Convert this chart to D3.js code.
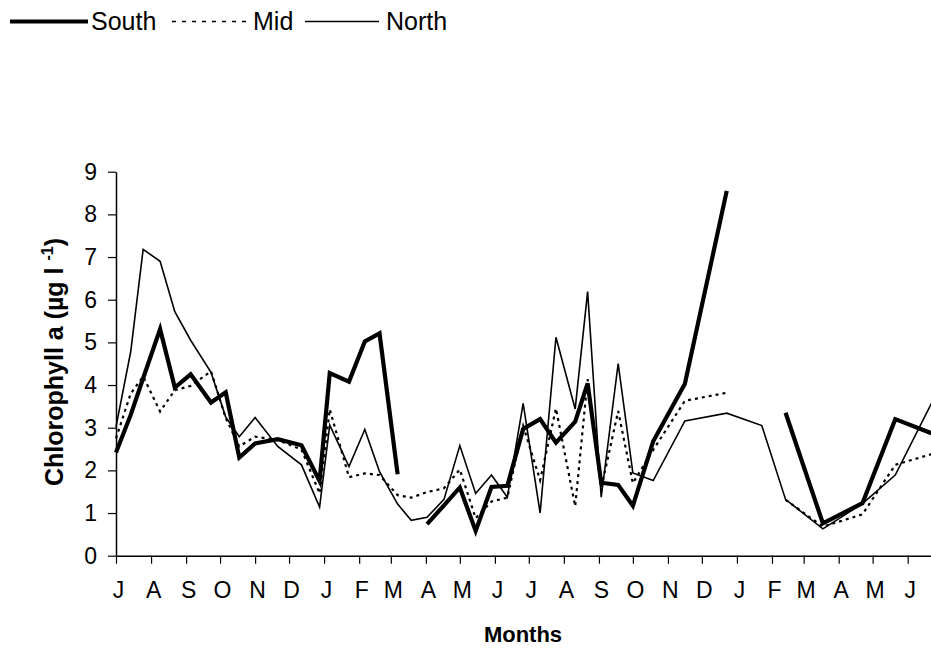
<!DOCTYPE html>
<html>
<head>
<meta charset="utf-8">
<script src="https://cdn.jsdelivr.net/npm/d3@7/dist/d3.min.js"></script>
<style>
  html, body { margin: 0; padding: 0; background: #fff; }
  svg { display: block; font-family: "Liberation Sans", Arial, sans-serif; }
</style>
</head>
<body>
<svg id="chart" width="931" height="649"></svg>
<script>
// ---- data ----
const sampleDates = [
  "2001-07-01","2001-07-14","2001-07-25","2001-08-09","2001-08-22","2001-09-05",
  "2001-09-23","2001-10-06","2001-10-18","2001-11-01","2001-11-21","2001-12-12",
  "2001-12-28","2002-01-06","2002-01-23","2002-02-06","2002-02-19","2002-03-07",
  "2002-03-19","2002-04-02","2002-04-17","2002-05-01","2002-05-15","2002-05-29",
  "2002-06-12","2002-06-26","2002-07-11","2002-07-25","2002-08-11","2002-08-22",
  "2002-09-03","2002-09-18","2002-10-01","2002-10-19","2002-11-16","2002-12-23",
  "2003-01-23","2003-02-13","2003-03-18","2003-04-22","2003-05-21","2003-06-22"
];
const south = [
  2.42, 3.30, 4.16, 5.31, 3.94, 4.25, 3.59, 3.83, 2.30, 2.63, 2.73, 2.59,
  1.75, 4.28, 4.08, 5.02, 5.21, 1.91, null, 0.74, 1.18, 1.60, 0.58, 1.61,
  1.64, 2.97, 3.20, 2.65, 3.14, 4.04, 1.71, 1.66, 1.17, 2.68, 4.03, 8.55,
  null, 3.35, 0.76, 1.23, 3.20, 2.87
];
const mid = [
  2.75, 3.80, 4.20, 3.38, 3.88, 3.98, 4.32, 3.23, 2.56, 2.79, 2.71, 2.49,
  1.46, 3.43, 1.84, 1.93, 1.89, 1.42, 1.36, 1.49, 1.58, 2.02, 0.88, 1.27,
  1.36, 3.04, 1.77, 3.45, 1.16, 4.14, 1.58, 3.39, 1.70, 2.48, 3.63, 3.82,
  null, 1.31, 0.68, 0.97, 2.13, 2.38
];
const north = [
  3.02, 4.78, 7.18, 6.90, 5.72, 5.05, 4.30, 3.25, 2.79, 3.24, 2.56, 2.13,
  1.14, 3.06, 2.09, 2.96, 1.97, 1.21, 0.83, 0.90, 1.32, 2.58, 1.46, 1.89,
  1.37, 3.57, 1.00, 5.12, 3.44, 6.19, 1.37, 4.50, 1.94, 1.76, 3.16, 3.34,
  3.05, 1.32, 0.63, 1.22, 1.89, 3.57
];
const monthLabels = ["J","A","S","O","N","D","J","F","M","A","M","J",
                     "J","A","S","O","N","D","J","F","M","A","M","J"];
const yTicks = [0,1,2,3,4,5,6,7,8,9];
const seriesNames = ["South","Mid","North"];

// ---- layout ----
const svg = d3.select("#chart");
const W = 931, H = 649;
const mLeft = 116, mTop = 171.7, mBottom = 555.7;
const parse = d3.utcParse("%Y-%m-%d");
const dates = sampleDates.map(parse);
const startDate = parse("2001-07-01"), endDate = parse("2003-07-01");
const pxPerDay = 1.131;
const x = d3.scaleUtc().domain([startDate, endDate])
  .range([mLeft, mLeft + pxPerDay * d3.utcDay.count(startDate, endDate)]);
const y = d3.scaleLinear().domain([0, 9]).range([mBottom, mTop]);

// axes
const tickDates = d3.utcMonth.range(startDate, endDate).slice(0, monthLabels.length);
const xAxis = d3.axisBottom(x).tickValues(tickDates)
  .tickFormat((d, i) => monthLabels[i]).tickSize(8).tickPadding(18).tickSizeOuter(0);
const gx = svg.append("g").attr("transform", `translate(0,${mBottom})`).call(xAxis);
gx.select(".domain").attr("d", `M${mLeft},0.5H${W}`);
gx.selectAll("line").attr("stroke", "#000").attr("stroke-width", 1.2);
gx.selectAll("text").attr("font-size", 23).attr("fill", "#000").attr("dx", 2);

const yAxis = d3.axisLeft(y).tickValues(yTicks).tickSize(8).tickPadding(11).tickSizeOuter(0);
const gy = svg.append("g").attr("transform", `translate(${mLeft},0)`).call(yAxis);
gy.selectAll("line").attr("stroke", "#000").attr("stroke-width", 1.2);
gy.selectAll("text").attr("font-size", 23).attr("fill", "#000");
svg.selectAll(".domain").attr("stroke", "#000").attr("stroke-width", 1.5);

// titles
svg.append("text").attr("x", 523).attr("y", 642).attr("text-anchor", "middle")
  .attr("font-size", 22).attr("font-weight", "bold").text("Months");
const yt = svg.append("text").attr("transform", "translate(63,362) rotate(-90)")
  .attr("text-anchor", "middle").attr("font-size", 25).attr("font-weight", "bold");
yt.append("tspan").text("Chlorophyll a  (µg l ");
yt.append("tspan").attr("font-size", 16).attr("dy", -10).text("-1");
yt.append("tspan").attr("dy", 10).text(")");

// lines
const styles = {
  South: { w: 4.2, dash: null },
  Mid:   { w: 2.2, dash: "3,4" },
  North: { w: 1.6, dash: null }
};
const seriesData = { South: south, Mid: mid, North: north };
const line = d3.line().defined(d => d.v != null).x(d => x(d.date)).y(d => y(d.v));
["North","Mid","South"].forEach(name => {
  const pts = seriesData[name].map((v, i) => ({ date: dates[i], v }));
  svg.append("path").datum(pts).attr("fill", "none").attr("stroke", "#000")
    .attr("stroke-width", styles[name].w)
    .attr("stroke-dasharray", styles[name].dash)
    .attr("stroke-linejoin", "miter")
    .attr("d", line);
});

// legend
const legendItems = [
  { name: "South", x1: 10, x2: 88, tx: 91 },
  { name: "Mid",   x1: 172, x2: 247, tx: 253 },
  { name: "North", x1: 305, x2: 379, tx: 386 }
];
const lg = svg.append("g");
legendItems.forEach(it => {
  lg.append("line").attr("x1", it.x1).attr("x2", it.x2).attr("y1", 21.5).attr("y2", 21.5)
    .attr("stroke", "#000").attr("stroke-width", it.name === "Mid" ? 1.5 : styles[it.name].w)
    .attr("stroke-dasharray", it.name === "Mid" ? "4,6" : null);
  lg.append("text").attr("x", it.tx).attr("y", 30).attr("font-size", 25)
    .attr("fill", "#000").text(it.name);
});
</script>
</body>
</html>
